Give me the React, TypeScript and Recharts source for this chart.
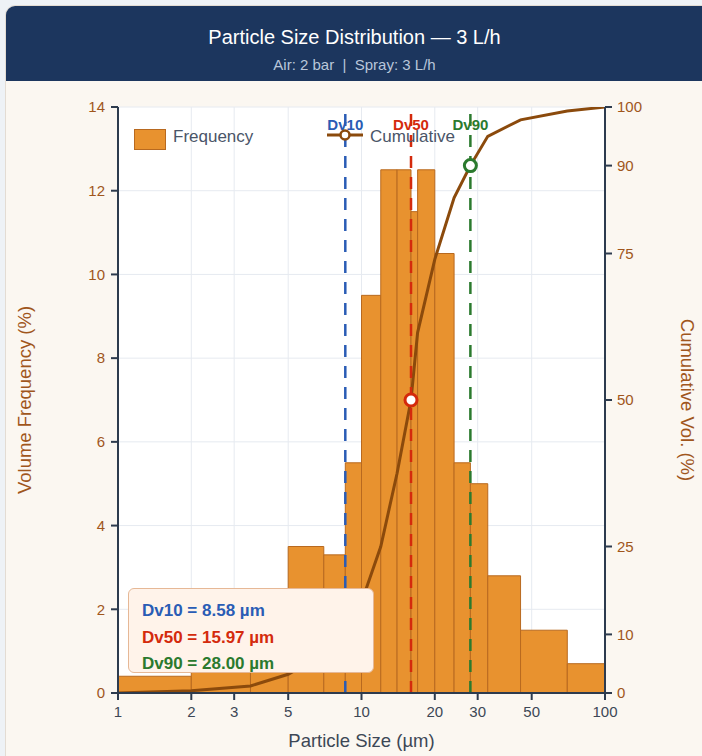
import React from 'react'
import {
  ComposedChart,
  Line,
  XAxis,
  YAxis,
  CartesianGrid,
  ReferenceArea,
  ReferenceLine,
  ReferenceDot,
  Legend,
} from 'recharts'

// bin edges (µm) and volume frequency (%) per bin
const binEdges = [1, 2, 3.5, 5, 7, 8.58, 10, 12, 14, 15.97, 17, 20, 24, 28, 33, 45, 70, 100]
const frequency = [0.4, 0.8, 2.0, 3.5, 3.3, 5.5, 9.5, 12.5, 12.5, 11.5, 12.5, 10.5, 5.5, 5.0, 2.8, 1.5, 0.7]
// cumulative volume (%) at each bin edge
const cumulative = [0, 0.4, 1.2, 3.2, 6.7, 10.0, 15.5, 25, 37.5, 50, 61.5, 74, 84.5, 90, 95, 97.8, 99.3, 100]

const dvNames = ['Dv10', 'Dv50', 'Dv90']
const dvSizes = [8.58, 15.97, 28.0]
const dvPercents = [10, 50, 90]
const dvColors = ['#2a5cb5', '#d42a0c', '#2b7a2e']

const xTicks = [1, 2, 3, 5, 10, 20, 30, 50, 100]
const leftTicks = [0, 2, 4, 6, 8, 10, 12, 14]
const rightTicks = [0, 10, 25, 50, 75, 90, 100]

const chartData = binEdges.map((size, i) => ({
  size,
  cum: cumulative[i],
  freq: i < frequency.length ? frequency[i] : 0,
}))

const FONT = '"Liberation Sans", Arial, sans-serif'
const BAR_FILL = '#e8922f'
const BAR_STROKE = '#b8691f'
const CUM_COLOR = '#8b4a0c'
const AXIS_COLOR = '#2d3b4e'
const BROWN = '#a0561c'

function LegendBox() {
  return (
    <div style={{ position: 'relative', width: 340, height: 24, fontFamily: FONT }}>
      <div
        style={{
          position: 'absolute',
          left: 0,
          top: 0,
          width: 30,
          height: 19,
          background: BAR_FILL,
          border: `1.5px solid ${BAR_STROKE}`,
        }}
      />
      <span
        style={{ position: 'absolute', left: 39, top: -3, fontSize: 17, lineHeight: '22px', color: '#4a5568' }}
      >
        Frequency
      </span>
      <svg style={{ position: 'absolute', left: 190, top: 0 }} width={42} height={14}>
        <line x1={3} y1={6} x2={39} y2={6} stroke={CUM_COLOR} strokeWidth={3} />
        <circle cx={21} cy={6} r={4.5} fill="#fff" stroke={CUM_COLOR} strokeWidth={2.5} />
      </svg>
      <span
        style={{ position: 'absolute', left: 236, top: -3, fontSize: 17, lineHeight: '22px', color: '#4a5568' }}
      >
        Cumulative
      </span>
    </div>
  )
}

export default function App() {
  return (
    <div
      style={{
        position: 'absolute',
        left: 0,
        top: 0,
        width: 702,
        height: 756,
        overflow: 'hidden',
        background: '#eef2f6',
        fontFamily: FONT,
      }}
    >
      <div
        style={{
          position: 'absolute',
          left: 5,
          top: 5,
          width: 730,
          height: 800,
          borderRadius: 10,
          background: '#fbf7f1',
          border: '1px solid #e3dcd3',
          overflow: 'hidden',
        }}
      >
        <div style={{ height: 75, background: '#1c365e', textAlign: 'center', width: 697 }}>
          <div style={{ position: 'absolute', top: 20, width: 697, color: '#fff', fontSize: 20 }}>
            Particle Size Distribution — 3 L/h
          </div>
          <div style={{ position: 'absolute', top: 50, width: 697, color: '#b9c7da', fontSize: 15 }}>
            Air: 2 bar&nbsp; |&nbsp; Spray: 3 L/h
          </div>
        </div>
      </div>

      <div style={{ position: 'absolute', left: 0, top: 80 }}>
        <ComposedChart
          width={702}
          height={676}
          data={chartData}
          margin={{ top: 27, right: 4, bottom: 5, left: 10 }}
        >
          <CartesianGrid yAxisId="left" stroke="#e6eaf0" fill="#ffffff" />
          <XAxis
            dataKey="size"
            type="number"
            scale="log"
            domain={[1, 100]}
            ticks={xTicks}
            allowDataOverflow
            height={58}
            tickSize={7}
            tickMargin={6}
            tick={{ fill: '#3d4756', fontSize: 15 }}
            axisLine={{ stroke: AXIS_COLOR, strokeWidth: 2 }}
            tickLine={{ stroke: AXIS_COLOR, strokeWidth: 2 }}
            label={{ value: 'Particle Size (µm)', position: 'insideBottom', offset: 4, fill: '#3d4756', fontSize: 18.5 }}
          />
          <YAxis
            yAxisId="left"
            domain={[0, 14]}
            ticks={leftTicks}
            allowDataOverflow
            width={108}
            tickSize={7}
            tickMargin={6}
            tick={{ fill: BROWN, fontSize: 15 }}
            axisLine={{ stroke: AXIS_COLOR, strokeWidth: 2 }}
            tickLine={{ stroke: AXIS_COLOR, strokeWidth: 2 }}
            label={{
              value: 'Volume Frequency (%)',
              angle: -90,
              position: 'insideLeft',
              offset: 14,
              fill: BROWN,
              fontSize: 18.5,
              style: { textAnchor: 'middle' },
            }}
          />
          <YAxis
            yAxisId="right"
            orientation="right"
            domain={[0, 100]}
            ticks={rightTicks}
            allowDataOverflow
            width={93}
            tickSize={7}
            tickMargin={5}
            tick={{ fill: BROWN, fontSize: 15 }}
            axisLine={{ stroke: AXIS_COLOR, strokeWidth: 2 }}
            tickLine={{ stroke: AXIS_COLOR, strokeWidth: 2 }}
            label={{
              value: 'Cumulative Vol. (%)',
              angle: 90,
              position: 'insideRight',
              offset: 10,
              fill: BROWN,
              fontSize: 18.5,
              style: { textAnchor: 'middle' },
            }}
          />
          <Legend
            verticalAlign="middle"
            content={() => <LegendBox />}
            wrapperStyle={{ top: 49, left: 134, width: 340 }}
          />

          {/* invisible series so the left axis is bound to data */}
          <Line
            yAxisId="left"
            dataKey="freq"
            stroke="none"
            dot={false}
            activeDot={false}
            legendType="none"
            isAnimationActive={false}
          />

          {frequency.map((f, i) => (
            <ReferenceArea
              key={'bin' + i}
              yAxisId="left"
              x1={binEdges[i]}
              x2={binEdges[i + 1]}
              y1={0}
              y2={f}
              fill={BAR_FILL}
              fillOpacity={1}
              stroke={BAR_STROKE}
              strokeWidth={1}
            />
          ))}

          <Line
            yAxisId="right"
            dataKey="cum"
            type="linear"
            stroke={CUM_COLOR}
            strokeWidth={3}
            dot={false}
            activeDot={false}
            isAnimationActive={false}
          />

          {dvSizes.map((d, i) => (
            <ReferenceLine
              key={'dv' + i}
              yAxisId="left"
              x={d}
              stroke={dvColors[i]}
              strokeWidth={2.5}
              strokeDasharray="12 9"
              label={{
                value: dvNames[i],
                position: 'insideTop',
                offset: 12,
                fill: dvColors[i],
                fontSize: 15,
                fontWeight: 'bold',
              }}
            />
          ))}

          {dvSizes.map((d, i) => (
            <ReferenceDot
              key={'dot' + i}
              yAxisId="right"
              x={d}
              y={dvPercents[i]}
              r={6}
              fill="#ffffff"
              stroke={dvColors[i]}
              strokeWidth={3}
            />
          ))}
        </ComposedChart>
      </div>

      <div
        style={{
          position: 'absolute',
          left: 128,
          top: 588,
          width: 244,
          height: 83,
          background: '#fff3ea',
          border: '1px solid #e6b896',
          borderRadius: 6,
        }}
      />
      {dvNames.map((n, i) => (
        <div
          key={'txt' + i}
          style={{
            position: 'absolute',
            left: 142,
            top: 602 + i * 26.7,
            fontSize: 17,
            lineHeight: '17px',
            fontWeight: 'bold',
            color: dvColors[i],
            whiteSpace: 'nowrap',
          }}
        >
          {n} = {dvSizes[i].toFixed(2)} µm
        </div>
      ))}
    </div>
  )
}
